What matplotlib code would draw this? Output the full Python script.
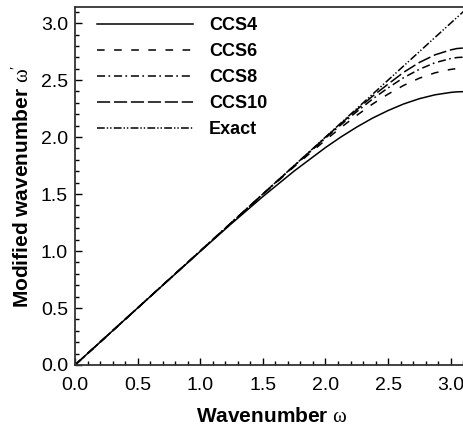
import numpy as np
import matplotlib
matplotlib.use('Agg')
import matplotlib.pyplot as plt
from matplotlib.ticker import MultipleLocator, FormatStrFormatter

plt.rcParams['font.family'] = ['Liberation Sans', 'DejaVu Sans']
plt.rcParams['mathtext.fontset'] = 'custom'
plt.rcParams['mathtext.rm'] = 'Liberation Serif'
plt.rcParams['mathtext.it'] = 'Liberation Serif'

# wavenumber samples and modified wavenumbers
omega = [0.0, 0.5, 1.0, 1.25, 1.5, 1.75, 2.0, 2.125, 2.25, 2.375, 2.5,
         2.625, 2.75, 2.875, 3.0, 3.05, 3.1416]
ccs4 = [0.0, 0.500, 0.997, 1.241, 1.478, 1.702, 1.908, 2.002, 2.088, 2.166, 2.233,
        2.291, 2.337, 2.371, 2.392, 2.397, 2.400]
ccs6 = [0.0, 0.500, 1.000, 1.249, 1.497, 1.740, 1.974, 2.085, 2.191, 2.289, 2.377,
        2.454, 2.517, 2.564, 2.594, 2.601, 2.606]
ccs8 = [0.0, 0.500, 1.000, 1.250, 1.499, 1.747, 1.991, 2.109, 2.223, 2.333, 2.432,
        2.522, 2.595, 2.653, 2.689, 2.698, 2.704]
ccs10 = [0.0, 0.500, 1.000, 1.250, 1.500, 1.749, 1.997, 2.120, 2.240, 2.358, 2.465,
         2.569, 2.655, 2.722, 2.765, 2.777, 2.785]
exact_x = [0.0, 3.1416]
exact_y = [0.0, 3.1416]

fig = plt.figure(figsize=(4.64, 4.26), dpi=100)
ax = fig.add_axes([0.1616, 0.1432, 0.848, 0.8404])

ax.plot(omega, ccs4, color='k', lw=1.1, label='CCS4')
ax.plot(omega, ccs6, color='k', lw=1.1, dashes=(5.0, 6.2), label='CCS6')
ax.plot(omega, ccs8, color='k', lw=1.1, dashes=(5.3, 2.2, 1.1, 2.5), label='CCS8')
ax.plot(omega, ccs10, color='k', lw=1.1, dashes=(8.6, 2.5), label='CCS10')
ax.plot(exact_x, exact_y, color='k', lw=1.1,
        dashes=(5.1, 1.3, 0.9, 1.3, 0.9, 1.5), label='Exact')

ax.set_xlim(0, np.pi)
ax.set_ylim(0, np.pi)
ax.xaxis.set_major_locator(MultipleLocator(0.5))
ax.xaxis.set_minor_locator(MultipleLocator(0.1))
ax.yaxis.set_major_locator(MultipleLocator(0.5))
ax.yaxis.set_minor_locator(MultipleLocator(0.1))
ax.xaxis.set_major_formatter(FormatStrFormatter('%.1f'))
ax.yaxis.set_major_formatter(FormatStrFormatter('%.1f'))
ax.tick_params(which='both', direction='in', top=False, right=False,
               labelsize=14, width=1.0)
ax.tick_params(which='major', length=5)
ax.tick_params(which='minor', length=3)
ax.tick_params(axis='x', pad=9)
ax.tick_params(axis='y', pad=5)
for s in ax.spines.values():
    s.set_linewidth(1.3)
    s.set_color('#333333')

ax.set_xlabel(r"Wavenumber $\mathrm{\omega}$", fontsize=15, fontweight='bold', labelpad=9)
ax.set_ylabel(r"Modified wavenumber $\mathrm{\omega}'$", fontsize=15, fontweight='bold', labelpad=6)

leg = ax.legend(loc='upper left', bbox_to_anchor=(0.038, 0.992), frameon=False,
                borderaxespad=0.0, handlelength=5.3, handletextpad=0.9,
                labelspacing=0.5, prop={'weight': 'bold', 'size': 13})

fig.savefig('out.png', dpi=100)
